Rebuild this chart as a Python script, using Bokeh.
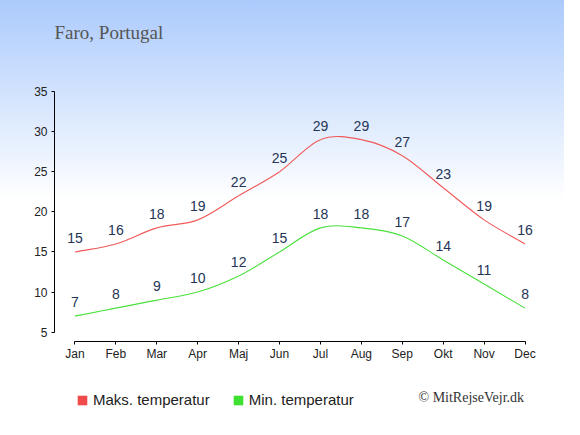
from bokeh.plotting import figure
from bokeh.models import FixedTicker, Label, Legend, LegendItem, ColumnDataSource
from bokeh.layouts import column
from bokeh.core.properties import value
from bokeh.embed import file_html
from bokeh.resources import INLINE

months = ["Jan", "Feb", "Mar", "Apr", "Maj", "Jun", "Jul", "Aug", "Sep", "Okt", "Nov", "Dec"]
max_temp = [15, 16, 18, 19, 22, 25, 29, 29, 27, 23, 19, 16]
min_temp = [7, 8, 9, 10, 12, 15, 18, 18, 17, 14, 11, 8]
y_ticks = [5, 10, 15, 20, 25, 30, 35]
title_text = "Faro, Portugal"
legend_labels = ["Maks. temperatur", "Min. temperatur"]
copyright_text = "© MitRejseVejr.dk"

RED = "#f04a4a"
GREEN = "#3ee032"
LINE_RED = "#f05a5a"
LINE_GREEN = "#4ae03c"
LABEL_COLOR = "#243556"

W = 564
H_MAIN = 370
H_STRIP = 49
FRAME_LEFT = 54
BOTTOM = 29
AXIS_TOP_PX = 91          # where the value 35 sits
Y_START = 3.84
Y_TOP_VAL = 35

# keep the scale of the axis (35 at 91 px) while the frame reaches the top of the canvas
frame_h = H_MAIN - BOTTOM
units_per_px = (Y_TOP_VAL - Y_START) / (frame_h - AXIS_TOP_PX)
y_end = Y_TOP_VAL + AXIS_TOP_PX * units_per_px

xs = list(range(len(months)))

p = figure(width=W, height=H_MAIN, x_range=(-0.5, 11.5), y_range=(Y_START, y_end),
           min_border_left=FRAME_LEFT, min_border_right=19, min_border_top=0, min_border_bottom=BOTTOM,
           toolbar_location=None, output_backend="svg")
p.background_fill_alpha = 0
p.border_fill_alpha = 0
p.outline_line_color = None
p.styles = {"background": "linear-gradient(to bottom, #abcafc 0px, #ffffff 200px, #ffffff 100%)"}
p.xgrid.visible = False
p.ygrid.visible = False


def catmull_segments(x, y):
    n = len(x)
    tx, ty = [], []
    for i in range(n):
        a = max(i - 1, 0)
        b = min(i + 1, n - 1)
        tx.append((x[b] - x[a]) / (b - a))
        ty.append((y[b] - y[a]) / (b - a))
    return dict(x0=x[:-1], y0=y[:-1], x1=x[1:], y1=y[1:],
                cx0=[x[i] + tx[i] / 3 for i in range(n - 1)],
                cy0=[y[i] + ty[i] / 3 for i in range(n - 1)],
                cx1=[x[i + 1] - tx[i + 1] / 3 for i in range(n - 1)],
                cy1=[y[i + 1] - ty[i + 1] / 3 for i in range(n - 1)])


for series, col in ((max_temp, LINE_RED), (min_temp, LINE_GREEN)):
    src = ColumnDataSource(catmull_segments(xs, series))
    p.bezier(x0="x0", y0="y0", x1="x1", y1="y1", cx0="cx0", cy0="cy0", cx1="cx1", cy1="cy1",
             source=src, line_color=col, line_width=1.1)
    p.text(x=xs, y=series, text=[str(v) for v in series], text_align="center",
           text_baseline="middle", y_offset=-14, text_font=value("Liberation Sans"),
           text_font_size="14px", text_color=LABEL_COLOR)

for ax in (p.xaxis[0], p.yaxis[0]):
    ax.major_tick_in = 0
    ax.major_tick_out = 3
    ax.minor_tick_out = 0
    ax.minor_tick_in = 0
    ax.axis_line_color = "#000000"
    ax.major_tick_line_color = "#000000"
    ax.major_label_text_font = "Liberation Sans"
    ax.major_label_text_font_size = "12px"
    ax.major_label_text_color = "#222222"
    ax.major_label_standoff = 4

p.xaxis[0].ticker = FixedTicker(ticks=xs)
p.xaxis[0].major_label_overrides = {i: m for i, m in enumerate(months)}
p.xaxis[0].bounds = (0, 11)
p.xaxis[0].major_label_standoff = 2
p.yaxis[0].ticker = FixedTicker(ticks=y_ticks)
p.yaxis[0].bounds = (5, 35)

# title inside the (extended) frame
p.add_layout(Label(x=0, y=frame_h - 32, x_units="screen", y_units="screen", text=title_text,
                   text_font="Liberation Serif", text_font_size="19px", text_color="#555555",
                   text_baseline="alphabetic"))

# bottom strip with legend and credit (its frame is aligned with the main frame)
s = figure(width=W, height=H_STRIP, x_range=(0, 1), y_range=(0, 1),
           min_border=0, x_axis_location=None, y_axis_location=None,
           toolbar_location=None, output_backend="svg")
s.background_fill_alpha = 0
s.border_fill_alpha = 0
s.outline_line_color = None
s.xgrid.visible = False
s.ygrid.visible = False

nan = float("nan")
r_max = s.rect(x=[nan], y=[nan], width=1, height=1, fill_color=RED, line_color=None)
r_min = s.rect(x=[nan], y=[nan], width=1, height=1, fill_color=GREEN, line_color=None)
legend = Legend(items=[LegendItem(label=legend_labels[0], renderers=[r_max]),
                       LegendItem(label=legend_labels[1], renderers=[r_min])],
                orientation="horizontal", location=(76 - FRAME_LEFT, 11),
                glyph_width=12, glyph_height=12, label_standoff=5, spacing=22,
                padding=0, margin=0, border_line_color=None, background_fill_alpha=0,
                label_text_font="Liberation Sans", label_text_font_size="15px",
                label_text_color="#222222")
s.add_layout(legend, "center")
s.add_layout(Label(x=418 - FRAME_LEFT, y=22, x_units="screen", y_units="screen", text=copyright_text,
                   text_font="Liberation Serif", text_font_size="14px", text_color="#333333",
                   text_baseline="middle"))

layout = column(p, s, spacing=0)
open("out.html", "w").write(file_html(layout, INLINE))
